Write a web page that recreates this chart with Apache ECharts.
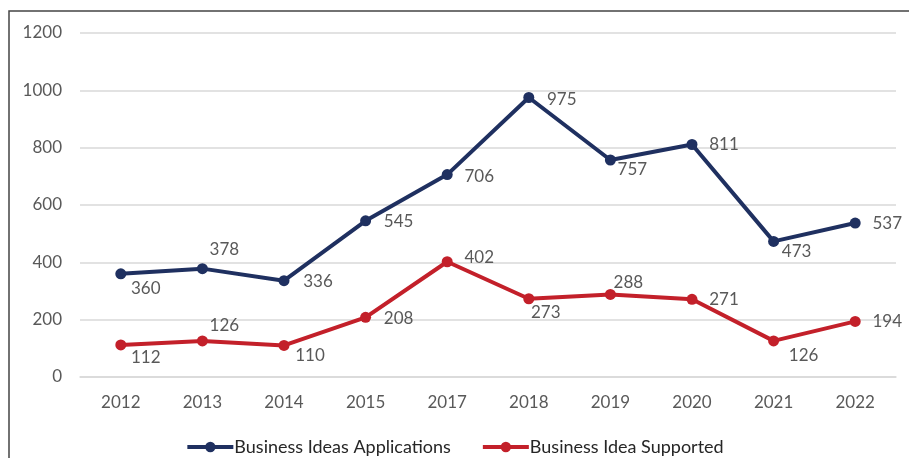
<!DOCTYPE html>
<html><head><meta charset="utf-8">
<script src="https://cdn.jsdelivr.net/npm/echarts@6/dist/echarts.min.js"></script>
<style>html,body{margin:0;padding:0;background:#fff}#c{width:909px;height:458px}</style>
</head><body><div id="c"></div>
<script>
var categories = ['2012','2013','2014','2015','2017','2018','2019','2020','2021','2022'];
var applications = [360, 378, 336, 545, 706, 975, 757, 811, 473, 537];
var supported = [112, 126, 110, 208, 402, 273, 288, 271, 126, 194];
var yTicks = [0, 200, 400, 600, 800, 1000, 1200];
// label placement offsets (styling only)
var appLabelOffsets = [[25,15],[22,-19],[34,1],[33,1],[32,2],[33,2],[22,10],[32,0],[23,10],[32,0]];
var supLabelOffsets = [[25,13],[22,-15],[26,10],[33,1],[32,-4],[17,14],[18,-12],[32,0],[30,15],[32,0]];

var FONT = 'Lato, "Open Sans", sans-serif';
function mk(vals, offs) {
  return vals.map(function (v, i) {
    return { value: v, label: { offset: offs[i] } };
  });
}
var chart = echarts.init(document.getElementById('c'), null, { renderer: 'canvas' });
var labelStyle = { show: true, position: 'inside', color: '#595959', fontSize: 17, fontFamily: FONT };
chart.setOption({
  animation: false,
  graphic: [{ type: 'rect', shape: { x: 9, y: 11, width: 920, height: 470 }, style: { fill: 'none', stroke: '#444', lineWidth: 1.5 }, silent: true }],
  grid: { left: 80, right: 13, top: 33, bottom: 81, containLabel: false },
  legend: {
    top: 433, left: 'center', itemGap: 30, itemWidth: 46, itemHeight: 13,
    lineStyle: { width: 4 },
    textStyle: { color: '#262626', fontSize: 18, fontFamily: FONT, padding: [0, 0, 0, -4] },
    data: ['Business Ideas Applications', 'Business Idea Supported']
  },
  xAxis: {
    type: 'category', data: categories, boundaryGap: true,
    axisLine: { show: true, lineStyle: { color: '#d9d9d9', width: 1.5 } },
    axisTick: { show: false },
    axisLabel: { color: '#595959', fontSize: 17, fontFamily: FONT, margin: 17 }
  },
  yAxis: {
    type: 'value', min: yTicks[0], max: yTicks[yTicks.length - 1], interval: 200,
    axisLine: { show: false }, axisTick: { show: false },
    splitLine: { lineStyle: { color: '#d9d9d9', width: 1.5 } },
    axisLabel: { color: '#595959', fontSize: 17, fontFamily: FONT, margin: 18, formatter: function (v) { return String(v); } }
  },
  series: [
    { name: 'Business Ideas Applications', type: 'line', data: mk(applications, appLabelOffsets),
      color: '#1F3060', symbol: 'circle', symbolSize: 11,
      lineStyle: { width: 4, color: '#1F3060' }, itemStyle: { color: '#1F3060' },
      label: labelStyle },
    { name: 'Business Idea Supported', type: 'line', data: mk(supported, supLabelOffsets),
      color: '#C3202A', symbol: 'circle', symbolSize: 11,
      lineStyle: { width: 4, color: '#C3202A' }, itemStyle: { color: '#C3202A' },
      label: labelStyle }
  ]
});
</script></body></html>
